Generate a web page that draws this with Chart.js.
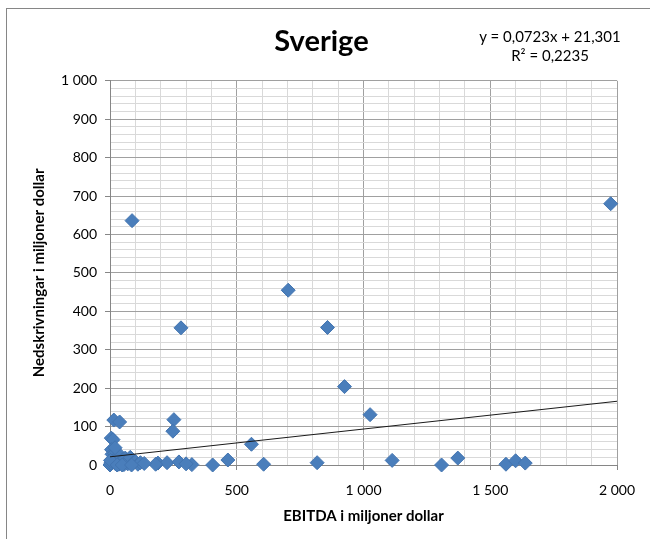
<!DOCTYPE html>
<html>
<head>
<meta charset="utf-8">
<script src="https://cdn.jsdelivr.net/npm/chart.js@4.4.1/dist/chart.umd.min.js"></script>
<style>
    body { margin: 0; background: #fff; }
    #wrap { position: relative; width: 650px; height: 539px; overflow: hidden; }
    #frame { position: absolute; left: 6px; top: 8px; width: 700px; height: 600px; border: 1px solid #868686; box-sizing: border-box; }
    #eq { position: absolute; left: 470px; top: 27px; width: 160px; text-align: center; font: 15px Lato, sans-serif; line-height: 19px; color: #000; }
    canvas { position: absolute; left: 0; top: 0; }
</style>
</head>
<body>
<div id="wrap">
    <div id="frame"></div>
    <canvas id="scatterChart" width="650" height="539"></canvas>
    <div id="eq">y = 0,0723x + 21,301<br>R² = 0,2235</div>
</div>
<script>
// EBITDA (x) and write-downs (y), in million dollars
const ebitda = [
    1975, 87, 703, 280, 858, 925, 1026, 252, 248, 558, 15, 38, 5, 12,
    465, 405, 606, 817, 1113, 1308, 1372, 1562, 1600, 1638,
    189, 225, 272, 323, 300, 180,
    0, 3, 6, 8, 10, 14, 18, 22, 26, 30, 35, 40, 45, 50, 55, 60, 65, 70, 75, 80,
    90, 100, 110, 120, 135, 2, 20, 28, 48, 85
];
const writedowns = [
    680, 636, 455, 357, 358, 204, 131, 118, 88, 54, 117, 112, 70, 66,
    13, 0, 2, 6, 12, 0, 18, 2, 11, 5,
    5, 6, 8, 1, 3, 2,
    0, 5, 40, 28, 15, 8, 30, 3, 20, 10, 2, 25, 6, 14, 1, 18, 8, 3, 12, 20,
    5, 9, 2, 6, 4, 12, 45, 0, 0, 0
];

// trendline from the equation shown on the chart
const trendSlope = 0.0723;
const trendIntercept = 21.301;
const xRange = [0, 2000];
const yRange = [0, 1000];

function fmt(v) {
    return v.toString().replace(/\B(?=(\d{3})+(?!\d))/g, " ");
}

const majorGrid = "#a0a0a0";
const minorGrid = "#d9d9d9";
const axisColor = "#868686";

let points = ebitda.map((x, i) => ({ x: x, y: writedowns[i] }));
let trend = xRange.map(x => ({ x: x, y: trendIntercept + trendSlope * x }));

let ctx = document.getElementById("scatterChart").getContext("2d");
new Chart(ctx, {
    type: "scatter",
    data: {
        datasets: [{
            type: "line",
            label: "Trend",
            data: trend,
            borderColor: "#1a1a1a",
            borderWidth: 1,
            pointRadius: 0,
            fill: false
        }, {
            label: "Sverige",
            data: points,
            clip: false,
            pointStyle: "rectRot",
            pointRadius: 7,
            backgroundColor: "#4a7ebb",
            borderColor: "#4274b0",
            borderWidth: 1
        }]
    },
    options: {
        responsive: false,
        animation: false,
        layout: {
            padding: { left: 26, right: 33, top: 0, bottom: 10 }
        },
        plugins: {
            legend: { display: false },
            tooltip: { enabled: false },
            title: {
                display: true,
                text: "Sverige",
                color: "#000",
                font: { family: "Lato", size: 29, weight: "bold" },
                padding: { top: 24, bottom: 22 }
            }
        },
        scales: {
            x: {
                type: "linear",
                min: xRange[0],
                max: xRange[1],
                afterFit: scale => { scale.height = 64; },
                border: { color: axisColor },
                grid: {
                    color: c => c.tick.value % 500 === 0 ? majorGrid : minorGrid,
                    tickColor: c => c.tick.value % 500 === 0 ? axisColor : "rgba(0,0,0,0)",
                    tickLength: 5
                },
                ticks: {
                    stepSize: 100,
                    autoSkip: false,
                    maxRotation: 0,
                    padding: 12,
                    color: "#000",
                    font: { family: "Lato", size: 14 },
                    callback: v => v % 500 === 0 ? fmt(v) : ""
                },
                title: {
                    display: true,
                    text: "EBITDA i miljoner dollar",
                    color: "#000",
                    font: { family: "Lato", size: 15, weight: "bold" },
                    padding: { top: 6, bottom: 4 }
                }
            },
            y: {
                type: "linear",
                min: yRange[0],
                max: yRange[1],
                afterFit: scale => { scale.width = 84; },
                border: { color: axisColor },
                grid: {
                    color: c => c.tick.value % 100 === 0 ? majorGrid : minorGrid,
                    tickColor: c => c.tick.value % 100 === 0 ? axisColor : "rgba(0,0,0,0)",
                    tickLength: 5
                },
                ticks: {
                    stepSize: 20,
                    autoSkip: false,
                    padding: 8,
                    color: "#000",
                    font: { family: "Lato", size: 14 },
                    callback: v => v % 100 === 0 ? fmt(v) : ""
                },
                title: {
                    display: true,
                    text: "Nedskrivningar i miljoner dollar",
                    color: "#000",
                    font: { family: "Lato", size: 15, weight: "bold" },
                    padding: { top: 4, bottom: 4 }
                }
            }
        }
    }
});
</script>
</body>
</html>
